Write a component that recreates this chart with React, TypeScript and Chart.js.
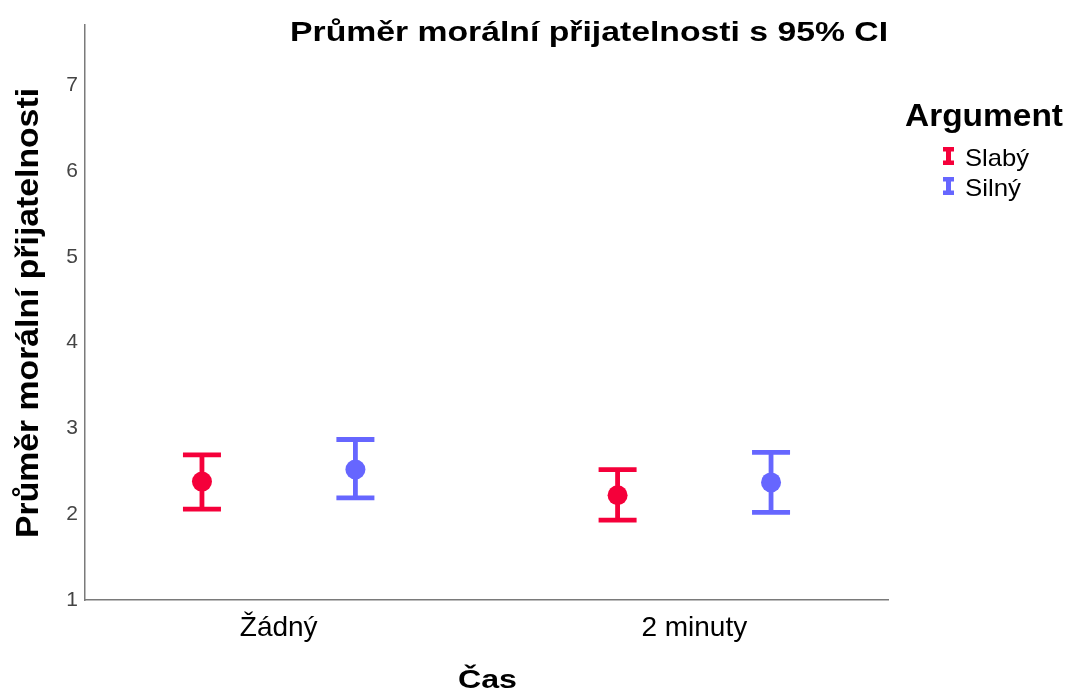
import React, { useEffect, useRef } from "react";
import { Chart, registerables } from "chart.js";

Chart.register(...registerables);

const categories = ["Žádný", "2 minuty"];
const seriesNames = ["Slabý", "Silný"];
const seriesColors = ["#F5003A", "#6666FF"];
const slabyMean = [2.38, 2.22];
const slabyLower = [2.06, 1.93];
const slabyUpper = [2.69, 2.52];
const silnyMean = [2.52, 2.37];
const silnyLower = [2.19, 2.02];
const silnyUpper = [2.87, 2.72];
const yTicks = [1, 2, 3, 4, 5, 6, 7];
const dodge = [-0.1846, 0.1846];

const chartTitle = "Průměr morální přijatelnosti s 95% CI";
const xTitle = "Čas";
const yTitle = "Průměr morální přijatelnosti";
const legendTitle = "Argument";

const FONT = '"Liberation Sans", Arial, Helvetica, sans-serif';

const series = [
  { name: seriesNames[0], mean: slabyMean, lower: slabyLower, upper: slabyUpper, color: seriesColors[0] },
  { name: seriesNames[1], mean: silnyMean, lower: silnyLower, upper: silnyUpper, color: seriesColors[1] },
];

function fitText(ctx: CanvasRenderingContext2D, text: string, x: number, y: number, font: string, width: number) {
  ctx.save();
  ctx.font = font;
  const w = ctx.measureText(text).width;
  const s = width / w;
  ctx.translate(x, y);
  ctx.scale(s, 1);
  ctx.textAlign = "left";
  ctx.textBaseline = "alphabetic";
  ctx.fillStyle = "#000";
  ctx.fillText(text, 0, 0);
  ctx.restore();
}

const errorBarPlugin = {
  id: "errorBars",
  beforeDatasetsDraw(chart: any) {
    const ctx = chart.ctx as CanvasRenderingContext2D;
    const xs = chart.scales.x;
    const ys = chart.scales.y;
    ctx.save();
    series.forEach((s, si) => {
      ctx.strokeStyle = s.color;
      ctx.lineWidth = 4.8;
      ctx.lineCap = "butt";
      s.mean.forEach((_, ci) => {
        const px = xs.getPixelForValue(ci + dodge[si]);
        const pLo = ys.getPixelForValue(s.lower[ci]);
        const pHi = ys.getPixelForValue(s.upper[ci]);
        const half = 19;
        ctx.beginPath();
        ctx.moveTo(px, pLo);
        ctx.lineTo(px, pHi);
        ctx.moveTo(px - half, pLo);
        ctx.lineTo(px + half, pLo);
        ctx.moveTo(px - half, pHi);
        ctx.lineTo(px + half, pHi);
        ctx.stroke();
      });
    });
    ctx.restore();
  },
};

const textPlugin = {
  id: "customTexts",
  afterDraw(chart: any) {
    const ctx = chart.ctx as CanvasRenderingContext2D;
    // chart title
    fitText(ctx, chartTitle, 290, 41, `bold 28px ${FONT}`, 598);
    // x axis title
    fitText(ctx, xTitle, 458, 688, `bold 25px ${FONT}`, 59);
    // y axis title (rotated)
    ctx.save();
    ctx.font = `bold 31px ${FONT}`;
    const w = ctx.measureText(yTitle).width;
    ctx.translate(38, 313);
    ctx.rotate(-Math.PI / 2);
    ctx.scale(450 / w, 1);
    ctx.textAlign = "center";
    ctx.textBaseline = "alphabetic";
    ctx.fillStyle = "#000";
    ctx.fillText(yTitle, 0, 0);
    ctx.restore();
    // legend
    fitText(ctx, legendTitle, 905, 126, `bold 32px ${FONT}`, 158);
    series.forEach((s, i) => {
      const base = 166 + i * 30;
      const top = base - 19;
      const bot = base - 1;
      ctx.save();
      ctx.fillStyle = s.color;
      ctx.fillRect(946, top, 5, bot - top);
      ctx.fillRect(943, top, 11, 4.5);
      ctx.fillRect(943, bot - 4.5, 11, 4.5);
      ctx.restore();
      fitText(ctx, s.name, 965, base, `24px ${FONT}`, i === 0 ? 64 : 56);
    });
  },
};

export default function App() {
  const ref = useRef<HTMLCanvasElement | null>(null);
  useEffect(() => {
    if (!ref.current) return;
    const datasets = series.map((s, si) => ({
      label: s.name,
      data: s.mean.map((m, ci) => ({ x: ci + dodge[si], y: m })),
      backgroundColor: s.color,
      borderColor: s.color,
      pointRadius: 10,
      pointHoverRadius: 10,
      borderWidth: 0,
      showLine: false,
    }));
    const chart = new Chart(ref.current, {
      type: "scatter",
      data: { datasets },
      options: {
        responsive: false,
        animation: false,
        devicePixelRatio: 1,
        layout: { padding: { left: 0, right: 182, top: 25, bottom: 0 } },
        plugins: {
          legend: { display: false },
          title: { display: false },
          tooltip: { enabled: false },
        },
        scales: {
          x: {
            type: "linear",
            min: -0.466,
            max: 1.466,
            afterFit: (scale: any) => {
              scale.height = 95;
            },
            afterBuildTicks: (scale: any) => {
              scale.ticks = categories.map((_, i) => ({ value: i }));
            },
            grid: { display: false, drawTicks: false },
            border: { display: true, color: "#7a7a7a", width: 1.5 },
            ticks: {
              autoSkip: false,
              maxRotation: 0,
              padding: 11,
              color: "#000",
              font: { family: FONT, size: 28 },
              callback: (v: any) => categories[Math.round(Number(v))] ?? "",
            },
            title: { display: false },
          },
          y: {
            type: "linear",
            min: 1,
            max: 7.7,
            afterFit: (scale: any) => {
              scale.width = 85;
            },
            afterBuildTicks: (scale: any) => {
              scale.ticks = yTicks.map((v) => ({ value: v }));
            },
            grid: { display: false, drawTicks: false },
            border: { display: true, color: "#7a7a7a", width: 1.5 },
            ticks: {
              padding: 7,
              color: "#444",
              font: { family: FONT, size: 21 },
              callback: (v: any) => String(v),
            },
            title: { display: false },
          },
        },
      },
      plugins: [errorBarPlugin, textPlugin],
    });
    return () => chart.destroy();
  }, []);
  return (
    <div style={{ position: "absolute", left: 0, top: 0, width: 1070, height: 695, background: "#fff" }}>
      <canvas ref={ref} width={1070} height={695} style={{ width: 1070, height: 695, display: "block" }} />
    </div>
  );
}
